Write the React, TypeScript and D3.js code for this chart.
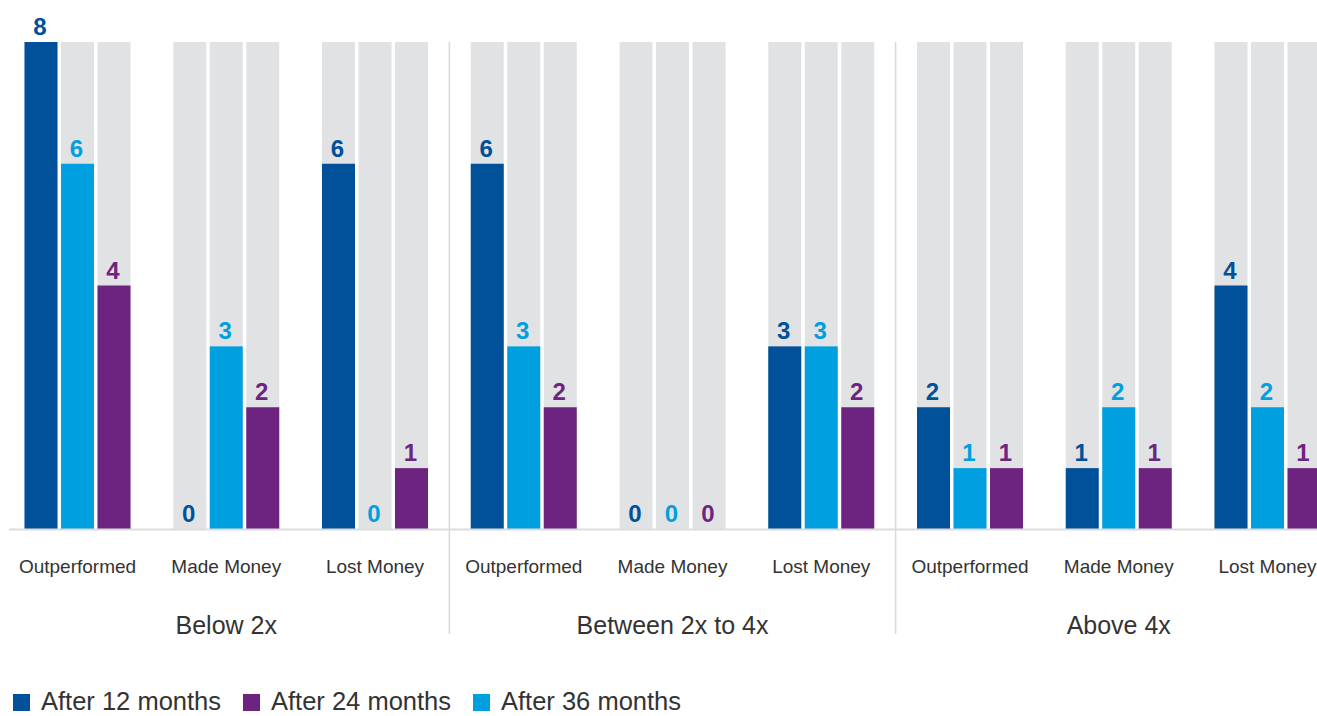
import React from "react";
import * as d3 from "d3";

const groups = ["Below 2x", "Between 2x to 4x", "Above 4x"];
const subCategories = ["Outperformed", "Made Money", "Lost Money"];
const seriesNames = ["After 12 months", "After 36 months", "After 24 months"];
const legendOrder = ["After 12 months", "After 24 months", "After 36 months"];
// values per sub-category across the 9 slots (group-major)
const after12 = [8, 0, 6, 6, 0, 3, 2, 1, 4];
const after36 = [6, 3, 0, 3, 0, 3, 1, 2, 2];
const after24 = [4, 2, 1, 2, 0, 2, 1, 1, 1];
const yMax = 8;

const colors: Record<string, string> = {
  "After 12 months": "#00509a",
  "After 24 months": "#6d2480",
  "After 36 months": "#009fdf",
};

const W = 1317;
const H = 716;

export default function App() {
  const slots = d3.range(9).map((i) => ({
    key: `${groups[Math.floor(i / 3)]}|${subCategories[i % 3]}`,
    group: groups[Math.floor(i / 3)],
    sub: subCategories[i % 3],
    values: [after12[i], after36[i], after24[i]],
  }));

  const step = 148.75;
  const x0 = d3
    .scaleBand<string>()
    .domain(slots.map((s) => s.key))
    .range([24.5, 24.5 + step * 9])
    .paddingInner(0)
    .paddingOuter(0);
  const x1 = d3.scaleBand<string>().domain(seriesNames).range([0, 106]).paddingInner(0.096);
  const y = d3.scaleLinear().domain([0, yMax]).range([529, 42]);
  const bw = x1.bandwidth();
  const font = "'Liberation Sans', Arial, sans-serif";

  const groupCenter = (g: number) => {
    const first = x0(slots[g * 3].key)!;
    const last = x0(slots[g * 3 + 2].key)! + 106;
    return (first + last) / 2;
  };
  const dividerX = (g: number) => {
    const end = x0(slots[g * 3 + 2].key)! + 106;
    const start = x0(slots[g * 3 + 3].key)!;
    return (end + start) / 2;
  };

  return (
    <svg
      width={W}
      height={H}
      style={{ position: "absolute", left: 0, top: 0, background: "#fff" }}
      fontFamily={font}
    >
      {slots.map((s) => (
        <g key={s.key} transform={`translate(${x0(s.key)},0)`}>
          {seriesNames.map((name, j) => {
            const v = s.values[j];
            const bx = x1(name)!;
            return (
              <g key={name}>
                <rect x={bx} y={y(yMax)} width={bw} height={y(0) - y(yMax)} fill="#e1e2e4" />
                <rect x={bx} y={y(v)} width={bw} height={y(0) - y(v)} fill={colors[name]} />
                <text
                  x={bx + bw / 2 - 1}
                  y={y(v) - 7}
                  textAnchor="middle"
                  fontWeight="bold"
                  fontSize={24}
                  fill={colors[name]}
                >
                  {v}
                </text>
              </g>
            );
          })}
          <text x={53} y={573} textAnchor="middle" fontSize={19} fill="#333">
            {s.sub}
          </text>
        </g>
      ))}
      <line x1={9} x2={W} y1={529.5} y2={529.5} stroke="#dcdcdc" strokeWidth={2} />
      {[0, 1].map((g) => (
        <line
          key={g}
          x1={dividerX(g)}
          x2={dividerX(g)}
          y1={42}
          y2={634}
          stroke="#d9d9d9"
          strokeWidth={1.5}
        />
      ))}
      {groups.map((g, i) => (
        <text key={g} x={groupCenter(i)} y={634} textAnchor="middle" fontSize={25} fill="#333">
          {g}
        </text>
      ))}
      {legendOrder.map((name, i) => (
        <g key={name} transform={`translate(${13 + i * 230},0)`}>
          <rect x={0} y={694} width={17} height={17} fill={colors[name]} />
          <text x={28} y={710} fontSize={25.5} fill="#333">
            {name}
          </text>
        </g>
      ))}
    </svg>
  );
}
